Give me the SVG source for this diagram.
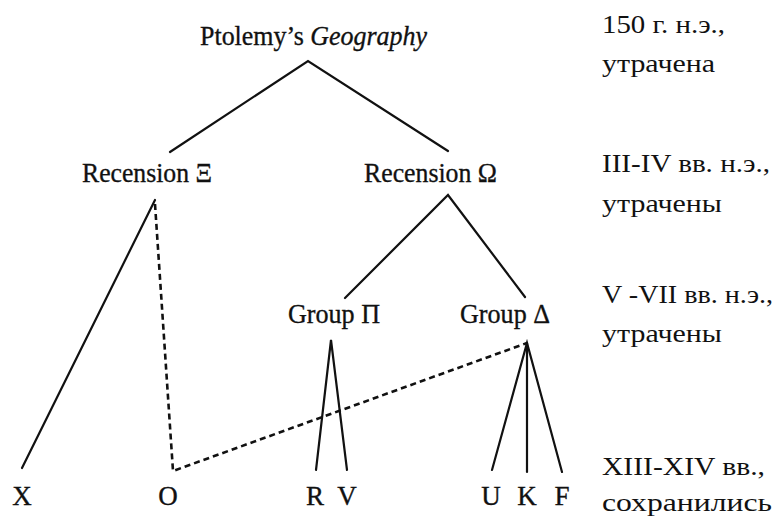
<svg xmlns="http://www.w3.org/2000/svg" width="778" height="519" viewBox="0 0 778 519">
<style>
.n{font-family:"Liberation Serif","Times New Roman",serif;font-size:28px;fill:#111;stroke:#111;stroke-width:0.35;}
.lbl{text-anchor:middle;font-size:27px;}
.d{font-family:"Liberation Serif","Times New Roman",serif;font-size:26px;fill:#111;}
.e{fill:none;stroke:#111;stroke-width:2.2;stroke-linejoin:miter;stroke-linecap:round;}
.dash{stroke-dasharray:6 4;stroke-linecap:butt;stroke-width:2.6;}
</style>
<rect width="778" height="519" fill="#fff"/>
<g id="connectors">
<polyline class="e" points="170,152 308,61 448,151"/>
<line class="e" x1="155" y1="200" x2="22" y2="468"/>
<polyline class="e dash" points="155,204 173,471 527,343"/>
<polyline class="e" points="345,298 448,195 525,297"/>
<polyline class="e" points="316,470 331,340 347,470"/>
<polyline class="e" points="492,470 527,343 562,472"/>
<line class="e" x1="527" y1="343" x2="527" y2="472"/>
</g>
<g id="root"><text class="n" x="200" y="45" textLength="227" lengthAdjust="spacingAndGlyphs">Ptolemy’s <tspan font-style="italic">Geography</tspan></text></g>
<g id="recensionXi"><text class="n" x="82" y="182" textLength="130" lengthAdjust="spacingAndGlyphs">Recension Ξ</text></g>
<g id="recensionOmega"><text class="n" x="364" y="182" textLength="133" lengthAdjust="spacingAndGlyphs">Recension Ω</text></g>
<g id="groupPi"><text class="n" x="288" y="323" textLength="92" lengthAdjust="spacingAndGlyphs">Group Π</text></g>
<g id="groupDelta"><text class="n" x="460" y="323" textLength="90" lengthAdjust="spacingAndGlyphs">Group Δ</text></g>
<g id="X"><text class="n lbl" x="22" y="505">X</text></g>
<g id="O"><text class="n lbl" x="168" y="505">O</text></g>
<g id="R"><text class="n lbl" x="315" y="505">R</text></g>
<g id="V"><text class="n lbl" x="347" y="505">V</text></g>
<g id="U"><text class="n lbl" x="491" y="505">U</text></g>
<g id="K"><text class="n lbl" x="527" y="505">K</text></g>
<g id="F"><text class="n lbl" x="562" y="505">F</text></g>
<g id="dates">
<text class="d" x="602" y="33" textLength="123" lengthAdjust="spacingAndGlyphs">150 г. н.э.,</text>
<text class="d" x="602" y="72" textLength="113" lengthAdjust="spacingAndGlyphs">утрачена</text>
<text class="d" x="602" y="172" textLength="168" lengthAdjust="spacingAndGlyphs">III-IV вв. н.э.,</text>
<text class="d" x="602" y="212" textLength="120" lengthAdjust="spacingAndGlyphs">утрачены</text>
<text class="d" x="602" y="303" textLength="171" lengthAdjust="spacingAndGlyphs">V -VII вв. н.э.,</text>
<text class="d" x="602" y="342" textLength="120" lengthAdjust="spacingAndGlyphs">утрачены</text>
<text class="d" x="602" y="475" textLength="163" lengthAdjust="spacingAndGlyphs">XIII-XIV вв.,</text>
<text class="d" x="602" y="511" textLength="170" lengthAdjust="spacingAndGlyphs">сохранились</text>
</g>
</svg>
